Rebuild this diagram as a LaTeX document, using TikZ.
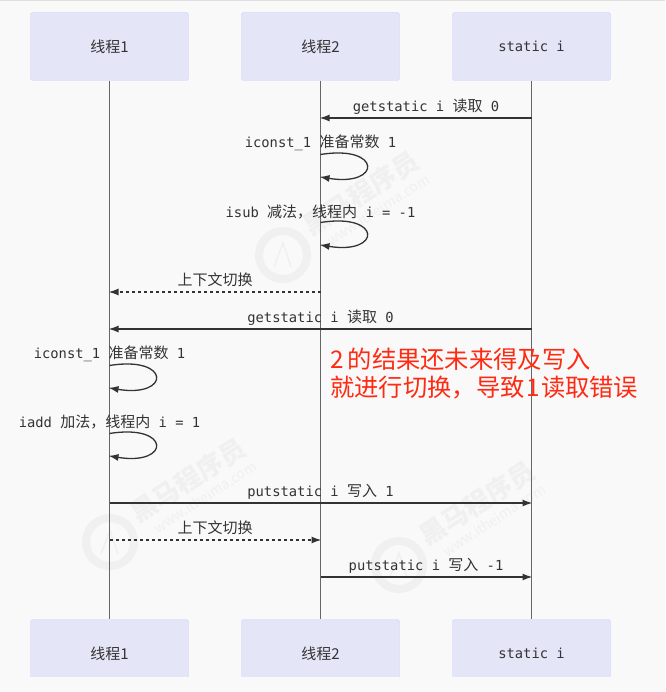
\documentclass[tikz,border=0pt]{standalone}
\usepackage{fontspec}
\setmainfont{DejaVu Sans Mono}
\newfontfamily\cjk{Noto Sans CJK SC}
\newcommand{\zh}[1]{{\cjk\fontsize{15pt}{18pt}\selectfont #1}}
\usetikzlibrary{arrows.meta, positioning}
\definecolor{PageGray}{HTML}{F9F9F9}
\definecolor{ActorFill}{HTML}{E5E5F8}
\definecolor{ActorEdge}{HTML}{CCCCFF}
\definecolor{LifeGray}{HTML}{666666}
\definecolor{MsgBlack}{HTML}{333333}
\definecolor{NoteRed}{HTML}{FF2A12}
\definecolor{MarkGray}{HTML}{F0F0F0}
\tikzset{%
  actor/.style={%
    rectangle,%
    rounded corners=2.5pt,%
    minimum width=158pt,%
    minimum height=68pt,%
    draw=ActorEdge,%
    fill=ActorFill,%
    text=MsgBlack,%
    font={\fontsize{13.8pt}{16pt}\selectfont},%
    inner sep=0pt,%
    align=center%
  },
  lifeline/.style={%
    color=LifeGray,%
    line width=1pt%
  },
  msg/.style={%
    color=MsgBlack,%
    line width=1.5pt,%
    shorten >=-1pt,%
    -{Latex[length=10pt, width=7pt]}%
  },
  switchmsg/.style={%
    msg,%
    dash pattern=on 3pt off 3pt%
  },
  selfmsg/.style={%
    msg,%
    line width=1.3pt%
  },
  msglabel/.style={%
    solid,%
    text=MsgBlack,%
    font={\fontsize{13.8pt}{16pt}\selectfont},%
    inner sep=0pt,%
    text height=10pt,%
    text depth=3pt%
  },
  note/.style={%
    text=NoteRed,%
    font={\cjk\fontsize{24.3pt}{27.5pt}\selectfont},%
    inner sep=0pt,%
    align=left%
  },
  wmark/.pic={%
    \draw [MarkGray, line width=8pt] (0,0) circle (24);
    \draw [MarkGray, line width=1.5pt] (-9,-12) -- (0,12) -- (8,-12);
    \node [rotate=33, text=MarkGray, font={\cjk\bfseries\fontsize{26pt}{28pt}\selectfont}, inner sep=0pt]
      (-brand) at (78,62) {黑马程序员};
    \node [rotate=33, text=MarkGray, font={\cjk\fontsize{14pt}{16pt}\selectfont}, inner sep=0pt]
      (-site) at (95,45) {www.itheima.com};
  },
}
\begin{document}
\begin{tikzpicture}[x=1pt, y=1pt]

    \useasboundingbox (0,0) rectangle (665,-692);
    \fill [PageGray] (0,0) rectangle (665,-692);
    \fill [gray!25] (0,0) rectangle (665,-1);

    % faint marks behind everything
    \pic (mark1) at (283,-255) {wmark};
    \pic (mark2) at (110,-542) {wmark};
    \pic (mark3) at (399,-565) {wmark};

    \node [actor] (Thread1) at (109.5,-46.5) {\zh{线程1}};
    \node [actor, right = 52.6 of Thread1] (Thread2) {\zh{线程2}};
    \node [actor, right = 52.6 of Thread2] (Static) {static i};
    \node [actor] (Thread1End) at (109.5,-653.5) {\zh{线程1}};
    \node [actor, right = 52.6 of Thread1End] (Thread2End) {\zh{线程2}};
    \node [actor, right = 52.6 of Thread2End] (StaticEnd) {static i};
    \fill [PageGray] (0,-676.5) rectangle (665,-692);

    \draw [lifeline] (Thread1.south) -- (Thread1End.north);
    \draw [lifeline] (Thread2.south) -- (Thread2End.north);
    \draw [lifeline] (Static.south) -- (StaticEnd.north);

    \coordinate (get2_s) at (Static.south |- 0,-118);
    \coordinate (get2_t) at (Thread2.south |- 0,-118);
    \coordinate (const2_a) at (Thread2.south |- 0,-154.5);
    \coordinate (const2_b) at (Thread2.south |- 0,-177);
    \coordinate (sub2_a) at (Thread2.south |- 0,-222.5);
    \coordinate (sub2_b) at (Thread2.south |- 0,-245);
    \coordinate (swap1_s) at (Thread2.south |- 0,-292);
    \coordinate (swap1_t) at (Thread1.south |- 0,-292);
    \coordinate (get1_s) at (Static.south |- 0,-329);
    \coordinate (get1_t) at (Thread1.south |- 0,-329);
    \coordinate (const1_a) at (Thread1.south |- 0,-365.5);
    \coordinate (const1_b) at (Thread1.south |- 0,-388);
    \coordinate (add1_a) at (Thread1.south |- 0,-433.5);
    \coordinate (add1_b) at (Thread1.south |- 0,-456);
    \coordinate (put1_s) at (Thread1.south |- 0,-503);
    \coordinate (put1_t) at (Static.south |- 0,-503);
    \coordinate (swap2_s) at (Thread1.south |- 0,-540);
    \coordinate (swap2_t) at (Thread2.south |- 0,-540);
    \coordinate (put2_s) at (Thread2.south |- 0,-577);
    \coordinate (put2_t) at (Static.south |- 0,-577);

    \draw [msg]
      (get2_s)
      --
      node [msglabel, midway, above = 3] (get2_label) {getstatic i \zh{读取} 0}
      (get2_t);
    \draw [selfmsg]
      (const2_a)
      node [msglabel, above = 3] (const2_label) {iconst\_1 \zh{准备常数} 1}
      .. controls +(61.5,10) and +(61.5,-10) ..
      (const2_b);
    \draw [selfmsg]
      (sub2_a)
      node [msglabel, above = 1.5] (sub2_label) {isub \zh{减法，线程内} i = -1}
      .. controls +(61.5,10) and +(61.5,-10) ..
      (sub2_b);
    \draw [switchmsg]
      (swap1_s)
      --
      node [msglabel, midway, above = 3] (swap1_label) {\zh{上下文切换}}
      (swap1_t);
    \draw [msg]
      (get1_s)
      --
      node [msglabel, midway, above = 3] (get1_label) {getstatic i \zh{读取} 0}
      (get1_t);
    \draw [selfmsg]
      (const1_a)
      node [msglabel, above = 3] (const1_label) {iconst\_1 \zh{准备常数} 1}
      .. controls +(61.5,10) and +(61.5,-10) ..
      (const1_b);
    \draw [selfmsg]
      (add1_a)
      node [msglabel, above = 2.5] (add1_label) {iadd \zh{加法，线程内} i = 1}
      .. controls +(61.5,10) and +(61.5,-10) ..
      (add1_b);
    \draw [msg]
      (put1_s)
      --
      node [msglabel, midway, above = 3] (put1_label) {putstatic i \zh{写入} 1}
      (put1_t);
    \draw [switchmsg]
      (swap2_s)
      --
      node [msglabel, midway, above = 3] (swap2_label) {\zh{上下文切换}}
      (swap2_t);
    \draw [msg]
      (put2_s)
      --
      node [msglabel, midway, above = 3] (put2_label) {putstatic i \zh{写入} -1}
      (put2_t);

    \node [note, anchor=west] (Remark) at (330,-373.5)
      {2\,的结果还未来得及写入\\就进行切换，导致\hspace{1.5pt}1\hspace{1.5pt}读取错误};

  \end{tikzpicture}
\end{document}
